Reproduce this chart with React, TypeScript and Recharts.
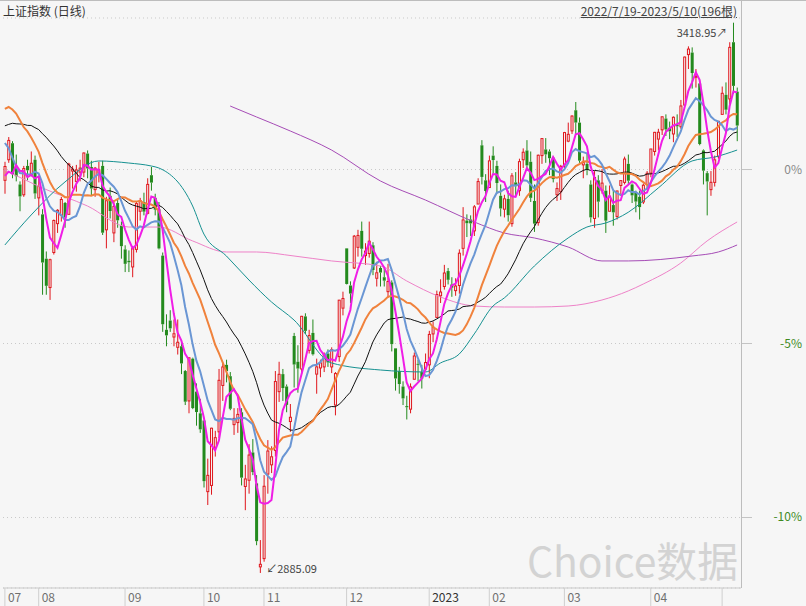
import React from "react";
import {
  Bar,
  CartesianGrid,
  ComposedChart,
  Line,
  ReferenceDot,
  XAxis,
  YAxis,
} from "recharts";

// closes of the 29 sessions before 2022/7/19, only used to seed the moving averages
const preCloses = [
  3263.79, 3238.95, 3284.83, 3255.55, 3288.91, 3305.41, 3285.38, 3316.79, 3315.43, 3306.72,
  3267.2, 3320.15, 3349.75, 3379.19, 3409.21, 3361.52, 3398.62, 3387.64, 3405.43, 3404.03,
  3355.35, 3364.4, 3356.08, 3313.58, 3281.47, 3284.29, 3281.74, 3228.06, 3278.1,
];

const opens = [
  3266, 3286, 3302, 3280, 3262, 3252, 3280, 3271, 3286, 3249,
  3233, 3190, 3162, 3196, 3224, 3232, 3244, 3233, 3275, 3265,
  3274, 3274, 3292, 3279, 3257, 3273, 3280, 3218, 3251, 3215,
  3244, 3222, 3199, 3188, 3182, 3199, 3236, 3245, 3234, 3271,
  3249, 3238, 3193, 3121, 3130, 3114, 3104, 3105, 3081, 3052,
  3093, 3061, 3040, 3033, 2964, 2970, 3007, 3022, 3067, 3087,
  3076, 3029, 3031, 3041, 2969, 2975, 3002, 2972, 2891, 2899,
  2981, 2990, 3004, 3061, 3078, 3066, 3032, 3115, 3090, 3083,
  3134, 3101, 3118, 3078, 3084, 3085, 3098, 3085, 3048, 3095,
  3142, 3200, 3164, 3181, 3201, 3217, 3193, 3195, 3203, 3171,
  3181, 3172, 3158, 3167, 3103, 3081, 3066, 3047, 3044, 3073,
  3088, 3080, 3083, 3087, 3117, 3133, 3154, 3163, 3178, 3165,
  3159, 3164, 3200, 3227, 3228, 3217, 3243, 3300, 3266, 3259,
  3290, 3280, 3251, 3238, 3248, 3224, 3264, 3256, 3286, 3295,
  3284, 3246, 3225, 3290, 3296, 3294, 3288, 3252, 3255, 3281,
  3304, 3314, 3334, 3322, 3281, 3282, 3262, 3229, 3266, 3256,
  3256, 3236, 3242, 3231, 3261, 3264, 3282, 3262, 3254, 3250,
  3245, 3262, 3273, 3294, 3306, 3315, 3326, 3317, 3311, 3320,
  3318, 3339, 3388, 3390, 3366, 3360, 3295, 3273, 3257, 3264,
  3289, 3330, 3349, 3345, 3400, 3352,
];

const highs = [
  3284, 3308, 3304, 3291, 3265, 3280, 3286, 3294, 3290, 3270,
  3238, 3197, 3190, 3228, 3238, 3250, 3245, 3283, 3280, 3281,
  3286, 3293, 3295, 3285, 3279, 3284, 3285, 3250, 3259, 3246,
  3247, 3226, 3203, 3198, 3200, 3246, 3249, 3254, 3268, 3279,
  3253, 3245, 3196, 3136, 3140, 3131, 3131, 3108, 3082, 3094,
  3094, 3069, 3054, 3033, 2996, 3026, 3023, 3083, 3089, 3092,
  3080, 3045, 3045, 3045, 2990, 3010, 3015, 2980, 2917, 2980,
  3014, 3008, 3081, 3090, 3083, 3068, 3049, 3118, 3106, 3134.5,
  3137, 3121, 3131, 3093, 3092, 3099, 3102, 3104, 3080, 3150,
  3158, 3200, 3168, 3213, 3218, 3226, 3205, 3226, 3206, 3187,
  3183, 3182, 3185, 3169, 3103, 3085, 3071, 3057, 3069, 3099,
  3092, 3087, 3098, 3120, 3129, 3159, 3170, 3184, 3181, 3172,
  3171, 3199, 3240, 3233, 3232, 3242, 3268, 3305, 3272, 3290,
  3299, 3285, 3262, 3252, 3256, 3273, 3274, 3287, 3297, 3305,
  3294, 3262, 3291, 3307, 3307, 3296, 3289, 3264, 3281, 3313,
  3322, 3329, 3342, 3327, 3289, 3292, 3266, 3275, 3271, 3277,
  3261, 3261, 3256, 3256, 3266, 3289, 3291, 3263, 3256, 3256,
  3263, 3275, 3296.5, 3313, 3316, 3328, 3330, 3323, 3328, 3330,
  3344, 3386, 3396, 3395, 3374, 3363, 3296, 3275, 3275, 3290,
  3323.5, 3357, 3361, 3400, 3418.95, 3356,
];

const lows = [
  3253, 3283, 3268, 3265, 3236, 3250, 3266, 3270, 3248, 3232,
  3155, 3155, 3150, 3194, 3215, 3226, 3220, 3233, 3258, 3255,
  3265, 3269, 3268, 3251, 3250, 3264, 3213, 3200, 3229, 3206,
  3220, 3190, 3177, 3177, 3172, 3196, 3227, 3232, 3233, 3256,
  3232, 3199, 3119, 3105, 3119, 3105, 3097, 3078, 3048, 3040,
  3044, 3028, 3021, 2968, 2951, 2961, 2998, 3016, 3052, 3070,
  3043, 3019, 3021, 2970, 2946, 2962, 2980, 2912, 2885.09, 2896,
  2962, 2982, 2998, 3051, 3052, 3041, 3022, 3065, 3060, 3078,
  3117, 3098, 3096, 3059, 3075, 3080, 3085, 3079, 3038, 3090,
  3135, 3165, 3147, 3180, 3192, 3192, 3184, 3191, 3174, 3163,
  3163, 3163, 3152, 3100, 3062, 3059, 3048, 3034, 3040, 3073,
  3071, 3064, 3082, 3074, 3109, 3133, 3147, 3160, 3165, 3153,
  3154, 3156, 3193, 3211, 3212, 3212, 3243, 3262, 3245, 3259,
  3273, 3253, 3231, 3230, 3226, 3221, 3250, 3251, 3278, 3278,
  3245, 3216, 3222, 3282, 3283, 3271, 3264, 3246, 3247, 3276,
  3303, 3311, 3311, 3283, 3268, 3271, 3225, 3220, 3230, 3253,
  3215, 3236, 3222, 3228, 3251, 3262, 3262, 3244, 3235, 3228,
  3243, 3257, 3269, 3290, 3295, 3310, 3309, 3306, 3303, 3308,
  3316, 3337, 3374, 3355, 3356, 3300, 3262, 3232, 3251, 3260,
  3287, 3330, 3330, 3340, 3350, 3304,
];

const closes = [
  3279.43, 3304.72, 3272.0, 3269.97, 3250.39, 3277.44, 3275.76, 3282.58, 3253.24, 3259.96,
  3186.27, 3163.67, 3189.04, 3227.03, 3236.93, 3247.43, 3230.02, 3281.67, 3276.89, 3276.09,
  3277.88, 3292.53, 3277.54, 3258.08, 3277.79, 3276.22, 3215.2, 3246.25, 3236.22, 3240.73,
  3227.22, 3202.14, 3184.98, 3186.48, 3199.91, 3243.45, 3246.29, 3235.59, 3262.05, 3263.8,
  3237.54, 3199.92, 3126.4, 3115.6, 3122.41, 3117.18, 3108.91, 3088.37, 3051.23, 3093.86,
  3045.07, 3041.2, 3024.39, 2974.15, 2979.79, 3025.51, 3016.36, 3071.99, 3084.94, 3080.96,
  3044.38, 3035.05, 3038.93, 2977.56, 2976.28, 2999.5, 2982.9, 2915.93, 2893.48, 2969.2,
  3003.37, 2997.81, 3070.8, 3077.82, 3064.49, 3048.17, 3036.13, 3087.29, 3083.4, 3134.08,
  3119.98, 3115.43, 3097.24, 3085.04, 3088.94, 3096.91, 3089.31, 3101.69, 3078.55, 3149.75,
  3151.34, 3165.47, 3156.14, 3211.81, 3212.53, 3199.62, 3197.35, 3206.95, 3179.04, 3176.33,
  3176.53, 3168.65, 3167.86, 3107.12, 3073.77, 3068.41, 3054.43, 3045.87, 3065.56, 3095.57,
  3087.4, 3073.7, 3089.26, 3116.51, 3123.52, 3155.22, 3157.64, 3176.08, 3169.51, 3161.84,
  3163.45, 3195.31, 3227.59, 3224.41, 3224.24, 3240.28, 3264.81, 3269.32, 3255.67, 3284.92,
  3285.67, 3263.41, 3238.7, 3248.09, 3232.11, 3270.38, 3260.67, 3284.16, 3293.28, 3280.49,
  3249.03, 3224.02, 3290.34, 3306.52, 3291.15, 3287.48, 3267.16, 3258.03, 3279.61, 3312.35,
  3310.65, 3328.39, 3322.03, 3285.1, 3283.25, 3276.09, 3230.08, 3268.7, 3245.31, 3263.31,
  3226.89, 3250.55, 3234.91, 3255.65, 3265.75, 3286.65, 3265.65, 3251.4, 3245.38, 3240.06,
  3261.25, 3272.86, 3296.4, 3312.56, 3312.63, 3327.65, 3315.36, 3313.57, 3327.18, 3318.36,
  3338.15, 3385.61, 3393.33, 3370.13, 3367.03, 3301.26, 3275.41, 3264.87, 3264.1, 3285.88,
  3323.27, 3350.46, 3334.5, 3395.0, 3357.67, 3319.15,
];

// long averages: [bar index, value]
const ma60Pts = [
  [0, 3203.3], [7, 3232.4], [16, 3264.4], [25, 3284.8], [33, 3282.8], [39, 3279.9],
  [41, 3278.0], [50, 3241.1], [53, 3213.9], [59, 3192.6], [65, 3169.3], [71, 3148.0],
  [77, 3130.5], [87, 3088.8], [100, 3082.0], [112, 3080.1], [116, 3088.8], [121, 3097.5],
  [125, 3117.0], [130, 3144.1], [133, 3151.9], [141, 3182.9], [150, 3210.1], [155, 3220.7],
  [160, 3224.6], [166, 3235.0], [174, 3258.6], [183, 3284.8], [189, 3288.6], [195, 3295.4],
];
const ma120Pts = [
  [0, 3276.0], [10, 3258.6], [22, 3241.1], [33, 3220.7], [41, 3220.7], [50, 3207.2],
  [59, 3196.5], [67, 3196.5], [77, 3192.6], [87, 3187.8], [100, 3182.9], [107, 3168.4],
  [116, 3152.8], [125, 3144.1], [133, 3143.1], [141, 3143.1], [150, 3144.1], [159, 3149.9],
  [166, 3158.7], [170, 3165.4], [180, 3185.8], [187, 3207.2], [195, 3225.6],
];
const ma250Pts = [
  [60, 3338.1], [67, 3327.5], [76, 3313.9], [87, 3295.4], [100, 3265.4], [112, 3246.9],
  [125, 3225.6], [133, 3214.9], [141, 3210.1], [150, 3201.3], [159, 3187.8], [166, 3187.8],
  [183, 3192.6], [190, 3196.5], [195, 3203.3],
];

const monthTicks = [0, 9, 32, 53, 69, 91, 113, 129, 149, 172, 191];
const monthLabels = ["07", "08", "09", "10", "11", "12", "2023", "02", "03", "04", ""];
const pctTicks = [3276.5, 3107.7, 2938.9];
const pctLabels = ["0%", "-5%", "-10%"];

const BG = "#f6f6f6";
const UP = "#e0161c";
const DOWN = "#238a1d";
const FONT = '"Noto Sans CJK SC", "Noto Sans", sans-serif';

const movingAvg = (n: number, i: number) => {
  const all = preCloses.concat(closes);
  const end = i + preCloses.length;
  if (end - n + 1 < 0) return null;
  let s = 0;
  for (let k = end - n + 1; k <= end; k++) s += all[k];
  return s / n;
};

const fromPts = (pts: number[][], i: number) => {
  const hit = pts.find((p) => p[0] === i);
  return hit ? hit[1] : null;
};

const data = closes.map((c, i) => ({
  i,
  open: opens[i],
  high: highs[i],
  low: lows[i],
  close: c,
  range: [lows[i], highs[i]],
  ma5: movingAvg(5, i),
  ma10: movingAvg(10, i),
  ma20: movingAvg(20, i),
  ma30: movingAvg(30, i),
  ma60: fromPts(ma60Pts, i),
  ma120: fromPts(ma120Pts, i),
  ma250: fromPts(ma250Pts, i),
}));

const Candle = (props: any) => {
  const { x, y, width, height, payload } = props;
  if (!payload) return null;
  const { open, close, high, low } = payload;
  const span = high - low || 1;
  const py = (v: number) => y + ((high - v) / span) * height;
  const cx = x + width / 2;
  const up = close >= open;
  const color = up ? UP : DOWN;
  const top = py(Math.max(open, close));
  const bot = py(Math.min(open, close));
  const h = Math.max(bot - top, 1);
  return (
    <g>
      <line x1={cx} x2={cx} y1={y} y2={top} stroke={color} strokeWidth={1} />
      <line x1={cx} x2={cx} y1={top + h} y2={y + height} stroke={color} strokeWidth={1} />
      {up ? (
        <rect x={cx - 1} y={top} width={2} height={h} fill={BG} stroke={color} strokeWidth={1} />
      ) : (
        <rect x={cx - 1.5} y={top} width={3} height={h} fill={color} />
      )}
    </g>
  );
};

const MonthTick = (props: any) => {
  const { x, y, payload } = props;
  const k = monthTicks.indexOf(payload.value);
  const label = monthLabels[k] ?? "";
  return (
    <g>
      <line x1={x} x2={x} y1={y} y2={y + 18} stroke="#cfcfcf" strokeWidth={1} />
      <text x={x + 3} y={y + 14} fontSize={12} fontFamily={FONT} fill={label === "2023" ? "#333" : "#707070"}>
        {label}
      </text>
    </g>
  );
};

const PctTick = (props: any) => {
  const { x, y, payload } = props;
  const k = pctTicks.indexOf(payload.value);
  return (
    <g>
      <line x1={x} x2={x + 11} y1={y} y2={y} stroke="#c4c4c4" strokeWidth={1} />
      <text x={x + 61} y={y + 4} textAnchor="end" fontSize={12} fontFamily={FONT} fill={k === 0 ? "#8a8a8a" : "#3f8a1f"}>
        {pctLabels[k]}
      </text>
    </g>
  );
};

const HighLabel = (props: any) => {
  const vb = props.viewBox || {};
  const cx = vb.x + (vb.width || 0) / 2;
  const cy = vb.y + (vb.height || 0) / 2;
  return (
    <text x={cx - 6} y={cy + 14} textAnchor="end" fontSize={11} fontFamily={FONT} fill="#444">
      3418.95↗
    </text>
  );
};

const LowLabel = (props: any) => {
  const vb = props.viewBox || {};
  const cx = vb.x + (vb.width || 0) / 2;
  const cy = vb.y + (vb.height || 0) / 2;
  return (
    <text x={cx + 6} y={cy} fontSize={11} fontFamily={FONT} fill="#444">
      ↙2885.09
    </text>
  );
};

const App = () => {
  return (
    <div
      style={{
        position: "absolute",
        left: 0,
        top: 0,
        width: 806,
        height: 606,
        background: BG,
        overflow: "hidden",
        fontFamily: FONT,
      }}
    >
      <svg width={806} height={606} style={{ position: "absolute", left: 0, top: 0 }}>
        <text
          x={527}
          y={577}
          fontSize={41}
          fontFamily={FONT}
          fill="#d3d3d3"
          textLength={211}
          lengthAdjust="spacingAndGlyphs"
        >
          Choice数据
        </text>
      </svg>

      <ComposedChart
        width={806}
        height={606}
        data={data}
        margin={{ top: 18, right: 0, bottom: 0, left: 3 }}
        barCategoryGap="0%"
        barGap={0}
      >
        <CartesianGrid vertical={false} stroke="#c9c9c9" strokeDasharray="1 3" />
        <XAxis
          dataKey="i"
          type="category"
          ticks={monthTicks}
          interval={0}
          height={18}
          tickSize={0}
          tickMargin={0}
          tick={<MonthTick />}
          tickLine={false}
          axisLine={{ stroke: "#c9c9c9" }}
          padding={{ left: 0, right: 2 }}
        />
        <YAxis
          orientation="right"
          width={65}
          domain={[2870.5, 3423.5]}
          allowDataOverflow
          ticks={pctTicks}
          tickSize={0}
          tickMargin={0}
          tick={<PctTick />}
          tickLine={false}
          axisLine={false}
        />
        <Bar dataKey="range" shape={<Candle />} isAnimationActive={false} />
        <Line dataKey="ma120" type="monotone" stroke="#ee82c8" strokeWidth={1} dot={false} connectNulls isAnimationActive={false} />
        <Line dataKey="ma250" type="monotone" stroke="#a64cb6" strokeWidth={1} dot={false} connectNulls isAnimationActive={false} />
        <Line dataKey="ma60" type="monotone" stroke="#169191" strokeWidth={1} dot={false} connectNulls isAnimationActive={false} />
        <Line dataKey="ma30" type="linear" stroke="#111" strokeWidth={1} dot={false} isAnimationActive={false} />
        <Line dataKey="ma20" type="linear" stroke="#f0823c" strokeWidth={2} dot={false} isAnimationActive={false} />
        <Line dataKey="ma10" type="linear" stroke="#6a96d4" strokeWidth={2} dot={false} isAnimationActive={false} />
        <Line dataKey="ma5" type="linear" stroke="#f01de6" strokeWidth={2} dot={false} isAnimationActive={false} />
        <ReferenceDot x={194} y={3418.95} r={1} fill="none" stroke="none" label={{ content: <HighLabel /> }} />
        <ReferenceDot x={68} y={2885.09} r={1} fill="none" stroke="none" label={{ content: <LowLabel /> }} />
      </ComposedChart>

      <div style={{ position: "absolute", left: 0, top: 0, width: 806, height: 1, background: "#bdbdbd" }} />
      <div style={{ position: "absolute", left: 741, top: 0, width: 1, height: 588, background: "#bdbdbd" }} />
      <div style={{ position: "absolute", left: 3, top: 4, fontSize: 12, color: "#333", lineHeight: "14px" }}>
        上证指数 (日线)
      </div>
      <div
        style={{
          position: "absolute",
          right: 806 - 737,
          top: 4,
          fontSize: 12,
          color: "#444",
          lineHeight: "14px",
          textDecoration: "underline",
        }}
      >
        2022/7/19-2023/5/10(196根)
      </div>
    </div>
  );
};

export default App;
